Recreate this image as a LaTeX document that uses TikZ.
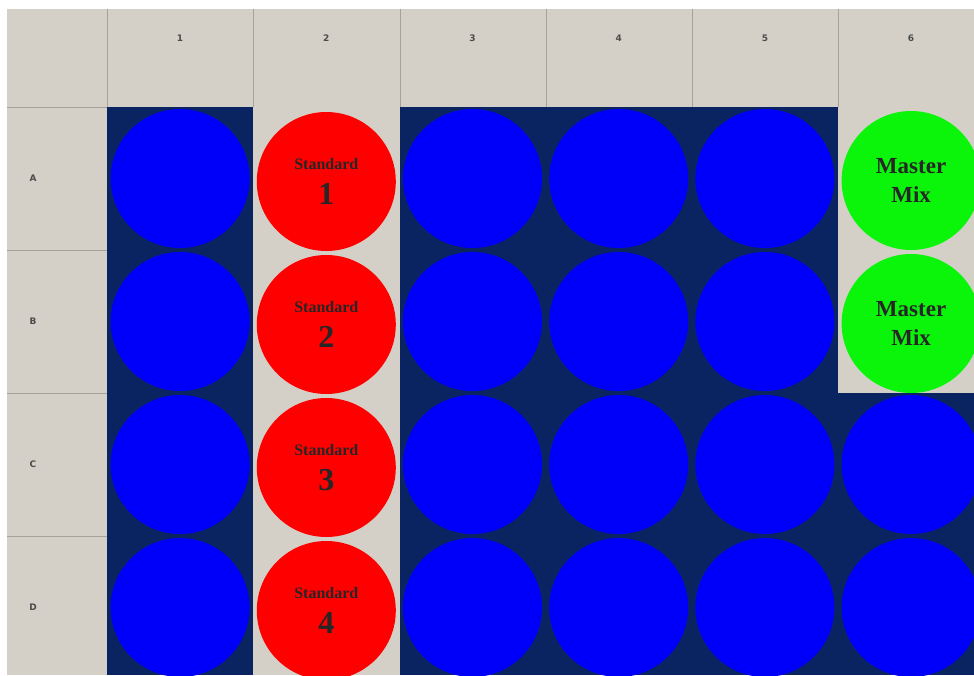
\documentclass[tikz,border=0pt]{standalone}
\usepackage{fontspec}
\setmainfont{Liberation Serif}
\newfontfamily\headfont{DejaVu Sans}
\definecolor{panel}{RGB}{212,208,200}
\definecolor{plate}{RGB}{10,36,98}
\definecolor{gridline}{RGB}{165,161,155}
\definecolor{sampleblue}{RGB}{0,0,250}
\definecolor{stdred}{RGB}{255,0,0}
\definecolor{mixgreen}{RGB}{10,245,10}

\begin{document}
\begin{tikzpicture}[x=1pt, y=-1pt,
    well/.style={circle, minimum size=139pt, inner sep=0pt, align=center},
    sample/.style={well, fill=sampleblue},
    std/.style={well, fill=stdred, text=black!85, font=\bfseries\fontsize{16}{18}\selectfont},
    mix/.style={well, fill=mixgreen, text=black!85, font=\bfseries\fontsize{23}{29}\selectfont},
    head/.style={text=black!70, font=\headfont\bfseries\fontsize{9}{11}\selectfont}]
  \useasboundingbox (0,0) rectangle (974,675);
  \clip (0,0) rectangle (974,675);
  \fill[white] (0,0) rectangle (974,675);

  % Header bar and row labels
  \fill[panel] (7,9) rectangle (974,107);
  \fill[panel] (7,107) rectangle (107,675);

  % Plate area
  \fill[plate] (107,107) rectangle (974,675);
  \fill[panel] (253,107) rectangle (400,675);
  \fill[panel] (838,107) rectangle (974,393);

  % Grid lines
  \foreach \x in {107,253,400,546,692,838}
    \draw[gridline] (\x,9) -- (\x,107);
  \foreach \y in {107,250,393,536}
    \draw[gridline] (7,\y) -- (107,\y);

  % Column numbers
  \foreach \c in {1,...,6}
    \node[head] (col\c) at ({107+146.2*(\c-0.5)},38) {\c};

  % Row letters
  \foreach \r/\l in {1/A,2/B,3/C,4/D}
    \node[head] (row\l) at (33,{107+143*(\r-0.5)}) {\l};

  % Samples and standards
  \foreach \r/\l in {1/A,2/B,3/C,4/D} {
    \foreach \c in {1,3,4,5}
      \node[sample] (\l\c) at ({107+146.2*(\c-0.5)},{107+143*(\r-0.5)}) {};
    \node[std] (\l2) at ({107+146.2*1.5},{107+143*(\r-0.5)+3})
      {Standard\\[13pt]{\fontsize{32}{32}\selectfont\r}};
  }

  % Column 6: master mix on top, samples below
  \node[mix] (A6) at ({107+146.2*5.5},{107+143*0.5+2}) {Master\\Mix};
  \node[mix] (B6) at ({107+146.2*5.5},{107+143*1.5+2}) {Master\\Mix};
  \node[sample] (C6) at ({107+146.2*5.5},{107+143*2.5}) {};
  \node[sample] (D6) at ({107+146.2*5.5},{107+143*3.5}) {};
\end{tikzpicture}
\end{document}
